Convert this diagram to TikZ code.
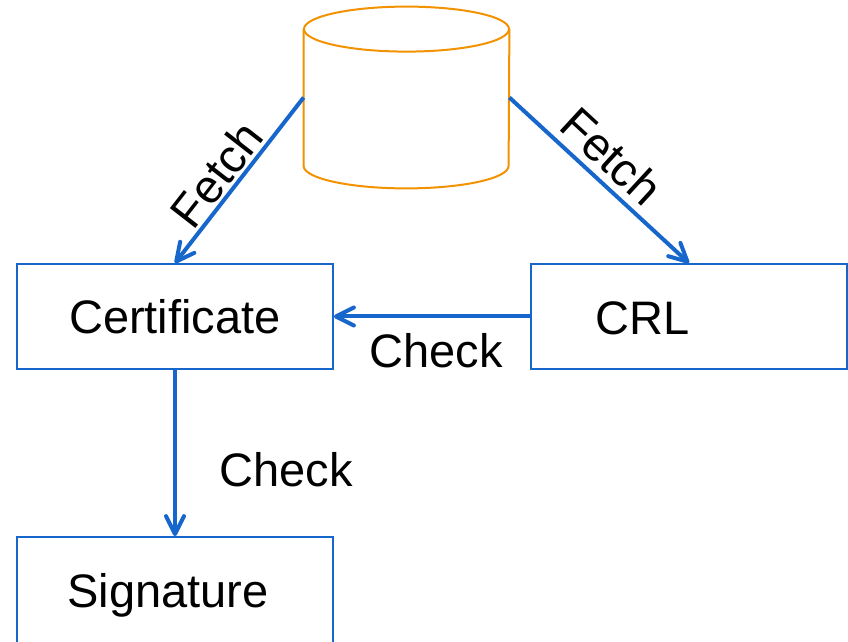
\documentclass[tikz,border=0pt]{standalone}
\usepackage{fontspec}
\setmainfont{Liberation Sans}
\usetikzlibrary{arrows.meta,positioning}
\definecolor{linkblue}{RGB}{22,102,204}
\definecolor{dborange}{RGB}{243,146,0}
\begin{document}
\begin{tikzpicture}[x=0.5pt,y=-0.5pt,
font=\fontsize{23.5}{28}\selectfont,
block/.style={draw=linkblue,line width=0.9pt,rectangle,minimum width=158pt,minimum height=52.5pt,inner sep=0pt},
store/.style={rectangle,minimum width=102.5pt,minimum height=90.5pt,inner sep=0pt},
cylline/.style={draw=dborange,line width=1pt},
arr/.style={-{Straight Barb[length=9pt,width=9pt,line cap=round,line join=round]},line width=2pt,draw=linkblue}]
\useasboundingbox (0,0) rectangle (848,642);
\node[store](db) at (406.5,97.5){};
\draw[cylline]([yshift=-11.25pt]db.north) ellipse[x radius=51.25pt,y radius=11.25pt];
\draw[cylline]([yshift=-11.25pt]db.north west)--([yshift=11.25pt]db.south west)
  arc[start angle=180,end angle=360,x radius=51.25pt,y radius=11.25pt]--([yshift=-11.25pt]db.north east);
\node[block](cert) at (175,316.5){Certificate};
\node[block,label={[xshift=-23pt,yshift=-0.75pt]center:CRL}](crl) at (689,316.5){};
\node[block,minimum height=55pt,label={[xshift=-3.5pt,yshift=-1.5pt]center:Signature}](sig) at (175,592){};
\draw[arr](db.west)--node[sloped,above=1.3pt,inner sep=0pt,pos=.545]{Fetch}(cert.north);
\draw[arr](db.east)--node[sloped,above=3.5pt,inner sep=0pt,pos=.47]{Fetch}(crl.north);
\draw[arr](crl.west)--node[below=4pt,xshift=2pt]{Check}(cert.east);
\draw[arr](cert.south)--node[right=18pt,pos=.6]{Check}(sig.north);
\end{tikzpicture}
\end{document}
